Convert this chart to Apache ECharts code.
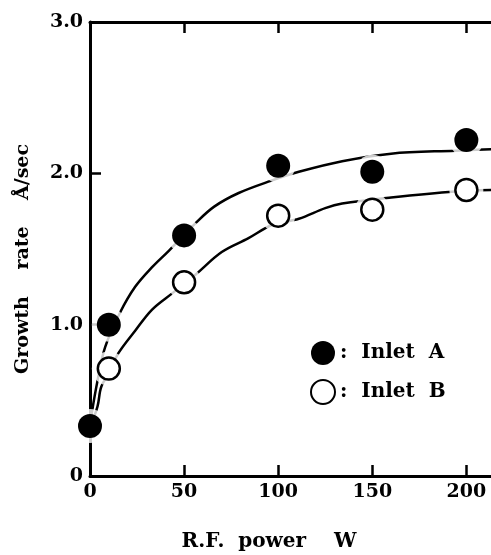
<!DOCTYPE html>
<html><head><meta charset="utf-8">
<script src="https://cdn.jsdelivr.net/npm/echarts@6/dist/echarts.min.js"></script>
<style>html,body{margin:0;padding:0;background:#fff}#c{width:491px;height:555px}</style>
</head><body><div id="c"></div>
<script>
// Measured points (R.F. power W, growth rate Å/sec)
const powerA = [0, 10, 50, 100, 150, 200];
const rateA  = [0.33, 1.0, 1.59, 2.05, 2.01, 2.22];
const powerB = [10, 50, 100, 150, 200];
const rateB  = [0.71, 1.28, 1.72, 1.76, 1.89];
// Fitted curves
const curveAx = [0, 1, 4, 8, 16, 24, 33, 42, 56, 66, 79, 96, 111, 134, 160, 194, 214];
const curveAy = [0.32, 0.42, 0.63, 0.85, 1.08, 1.25, 1.38, 1.49, 1.67, 1.78, 1.87, 1.95, 2.01, 2.08, 2.13, 2.15, 2.16];
const curveBx = [0, 4, 6, 11, 15, 24, 33, 44, 56, 70, 84, 97, 111, 125, 134, 160, 194, 214];
const curveBy = [0.32, 0.46, 0.59, 0.70, 0.81, 0.96, 1.10, 1.21, 1.33, 1.48, 1.57, 1.66, 1.70, 1.77, 1.80, 1.84, 1.88, 1.89];
const xTicks = [0, 50, 100, 150, 200];
const yTicks = [0, 1, 2, 3];
const yTitleWords = ['Growth', 'rate', 'Å/sec'];
const xTitle = 'R.F.  power    W';

const zip = (xs, ys) => xs.map((x, i) => [x, ys[i]]);
const F = 'DejaVu Serif';
const chart = echarts.init(document.getElementById('c'));
const axLine = {show: true, onZero: false, lineStyle: {color: '#000', width: 3}};
const tick = {show: true, inside: true, length: 11, lineStyle: {color: '#000', width: 2.5}};
const yWordPos = [335, 248, 172];
chart.setOption({
  animation: false,
  backgroundColor: '#fff',
  grid: {left: 90, top: 22, height: 454, width: 414, outerBoundsMode: 'none', containLabel: false},
  xAxis: [{
    type: 'value', min: 0, max: 220, interval: 50, position: 'bottom',
    axisLine: axLine, axisTick: tick, splitLine: {show: false},
    axisLabel: {color: '#000', fontFamily: F, fontWeight: 'bold', fontSize: 19, margin: 7,
      formatter: v => xTicks.includes(v) ? String(v) : ''}
  }, {
    type: 'value', min: 0, max: 220, interval: 50, position: 'top',
    axisLine: axLine, axisTick: tick, splitLine: {show: false}, axisLabel: {show: false}
  }],
  yAxis: [{
    type: 'value', min: 0, max: 3, interval: 1, position: 'left',
    axisLine: axLine, axisTick: tick, splitLine: {show: false},
    axisLabel: {color: '#000', fontFamily: F, fontWeight: 'bold', fontSize: 19, margin: 7,
      formatter: v => yTicks.includes(v) ? (v === 0 ? '0' : v.toFixed(1)) : ''}
  }, {
    type: 'value', min: 0, max: 3, interval: 1, position: 'right',
    axisLine: axLine, axisTick: tick, splitLine: {show: false}, axisLabel: {show: false}
  }],
  legend: {
    orient: 'vertical', left: 305, top: 336, itemWidth: 24, itemHeight: 24, itemGap: 14,
    data: ['Inlet A', 'Inlet B'],
    formatter: n => ':  ' + n.replace(' ', '  '),
    textStyle: {color: '#000', fontFamily: F, fontWeight: 'bold', fontSize: 20}
  },
  graphic: [{
    type: 'text', x: 269, y: 542,
    style: {text: xTitle, fill: '#000', font: 'bold 20px "DejaVu Serif"',
      textAlign: 'center', textVerticalAlign: 'middle'}
  }].concat(yTitleWords.map((w, i) => ({
    type: 'text', x: 23, y: yWordPos[i], rotation: Math.PI / 2,
    style: {text: w, fill: '#000', font: 'bold 19px "DejaVu Serif"',
      textAlign: 'center', textVerticalAlign: 'middle'}
  }))),
  series: [
    {type: 'line', smooth: 0.35, showSymbol: false, silent: true, z: 1,
     data: zip(curveAx, curveAy), lineStyle: {color: '#000', width: 2.5}},
    {type: 'line', smooth: 0.35, showSymbol: false, silent: true, z: 1,
     data: zip(curveBx, curveBy), lineStyle: {color: '#000', width: 2.5}},
    {type: 'scatter', silent: true, z: 2, symbolSize: 34, data: zip(powerA, rateA),
     itemStyle: {color: '#fff'}},
    {type: 'scatter', silent: true, z: 2, symbolSize: 34, data: zip(powerB, rateB),
     itemStyle: {color: '#fff'}},
    {name: 'Inlet A', type: 'scatter', z: 3, symbolSize: 24, data: zip(powerA, rateA),
     itemStyle: {color: '#000', opacity: 1}},
    {name: 'Inlet B', type: 'scatter', z: 3, symbolSize: 22, data: zip(powerB, rateB),
     itemStyle: {color: '#fff', borderColor: '#000', borderWidth: 2.5, opacity: 1}}
  ]
});
</script></body></html>
